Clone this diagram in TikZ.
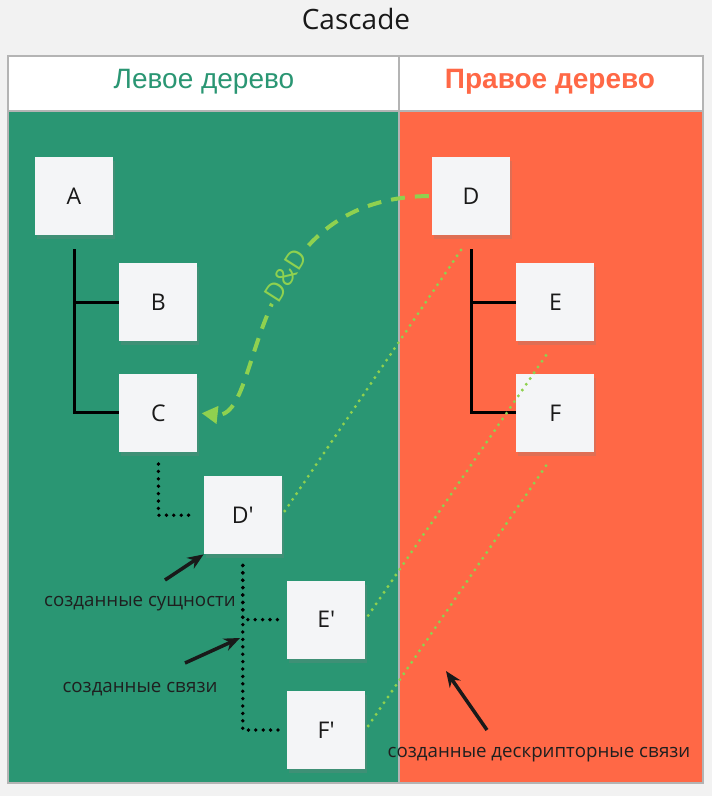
\documentclass[tikz,border=0pt]{standalone}
\usepackage{fontspec}
\setmainfont{Open Sans}
\newfontfamily\headfont{Liberation Sans}
\usepackage{xcolor}
\usetikzlibrary{arrows.meta,positioning,calc,shadows}

\definecolor{leftgreen}{HTML}{2A9673}
\definecolor{rightorange}{HTML}{FF6846}
\definecolor{ddgreen}{HTML}{8FD14F}
\definecolor{framegray}{HTML}{B4B4B4}
\definecolor{notegray}{HTML}{F4F5F7}
\definecolor{pagegray}{HTML}{F2F2F2}

\begin{document}
\begin{tikzpicture}[x=1pt, y=-1pt,
  note/.style={fill=notegray, minimum size=78pt, inner sep=0pt, font=\fontsize{23}{23}\selectfont, text=black!90,
    drop shadow={opacity=0.25, shadow xshift=2pt, shadow yshift=-4pt}},
  treeline/.style={line width=3pt, black},
  newlink/.style={line width=3.8pt, black, dash pattern=on 0pt off 7.4pt, line cap=round},
  descr/.style={line width=3.3pt, ddgreen, dash pattern=on 0pt off 7pt, line cap=round},
  dnd/.style={line width=4pt, ddgreen, dash pattern=on 14pt off 10pt, -{Triangle[length=16pt, width=17pt]}},
  marker/.style={line width=3.5pt, black!90, -{Stealth[length=16pt, width=13pt]}},
  remark/.style={font=\fontsize{18.7}{18.7}\selectfont, text=black!88},
  header/.style={font=\headfont\fontsize{28}{28}\selectfont},
]

% page and frame
\fill[pagegray] (0,0) rectangle (712,796);
\fill[white] (8,56) rectangle (703,111);
\fill[leftgreen] (8,111) rectangle (399,783);
\fill[rightorange] (399,111) rectangle (703,783);
\draw[framegray, line width=2pt] (8,56) rectangle (703,783);
\draw[framegray, line width=2pt] (8,111) -- (703,111);
\draw[framegray, line width=2pt] (399,56) -- (399,783);

\node[font=\fontsize{28}{28}\selectfont, text=black!90] (title) at (356,19) {Cascade};
\node[header, text=leftgreen] (lefthead) at (204,82) {Левое дерево};
\node[font=\headfont\bfseries\fontsize{28}{28}\selectfont, text=rightorange] (righthead) at (550,82) {Правое дерево};

% left tree
\node[note] (A) at (74,196) {A};
\node[note, below right=28pt and 6pt of A] (B) {B};
\node[note, below=32pt of B] (C) {C};
\node[note, below right=24pt and 6pt of C] (Dp) {D\textquotesingle};
\node[note, below right=26pt and 5pt of Dp] (Ep) {E\textquotesingle};
\node[note, below=32pt of Ep] (Fp) {F\textquotesingle};

% right tree
\node[note] (D) at (471,196) {D};
\node[note, below right=28pt and 6pt of D] (E) {E};
\node[note, below=32pt of E] (F) {F};

\draw[treeline] ($(A.south)+(0,14)$) |- (B.west);
\draw[treeline] ($(A.south)+(0,14)$) |- (C.west);
\draw[treeline] ($(D.south)+(0,14)$) |- (E.west);
\draw[treeline] ($(D.south)+(0,14)$) |- (F.west);

\draw[newlink, shorten >=8pt] ($(C.south)+(0,12)$) |- (Dp.west);
\draw[newlink, shorten >=4pt] ($(Dp.south)+(0,11)$) |- (Ep.west);
\draw[newlink, shorten >=4pt] ($(Dp.south)+(0,11)$) |- (Fp.west);

\draw[descr, shorten <=5pt, shorten >=12pt] (Dp.east) -- (D.south);
\draw[descr, shorten <=5pt, shorten >=12pt] (Ep.east) -- (E.south);
\draw[descr, shorten <=5pt, shorten >=12pt] (Fp.east) -- (F.south);

\draw[dnd, shorten <=3pt, shorten >=4pt] (D.west) .. controls (240,198) and (265,420) .. (C.east)
  node[pos=0.4, sloped, fill=leftgreen, inner sep=3pt, text=ddgreen, font=\fontsize{26}{26}\selectfont] (ddlabel) {D\&D};

% remarks
\node[remark] (newnodes) at (140,604) {созданные сущности};
\node[remark] (newlinks) at (140,689) {созданные связи};
\node[remark] (newdescr) at (539,755) {созданные дескрипторные связи};
\coordinate (tail1) at (165,580);
\coordinate (tail2) at (185,663);
\coordinate (tail3) at (487,730);
\coordinate (tip2) at (240,638);
\coordinate (tip3) at (446,671);
\draw[marker] (tail1) -- (Dp.south west);
\draw[marker] (tail2) -- (tip2);
\draw[marker] (tail3) -- (tip3);

\end{tikzpicture}
\end{document}
